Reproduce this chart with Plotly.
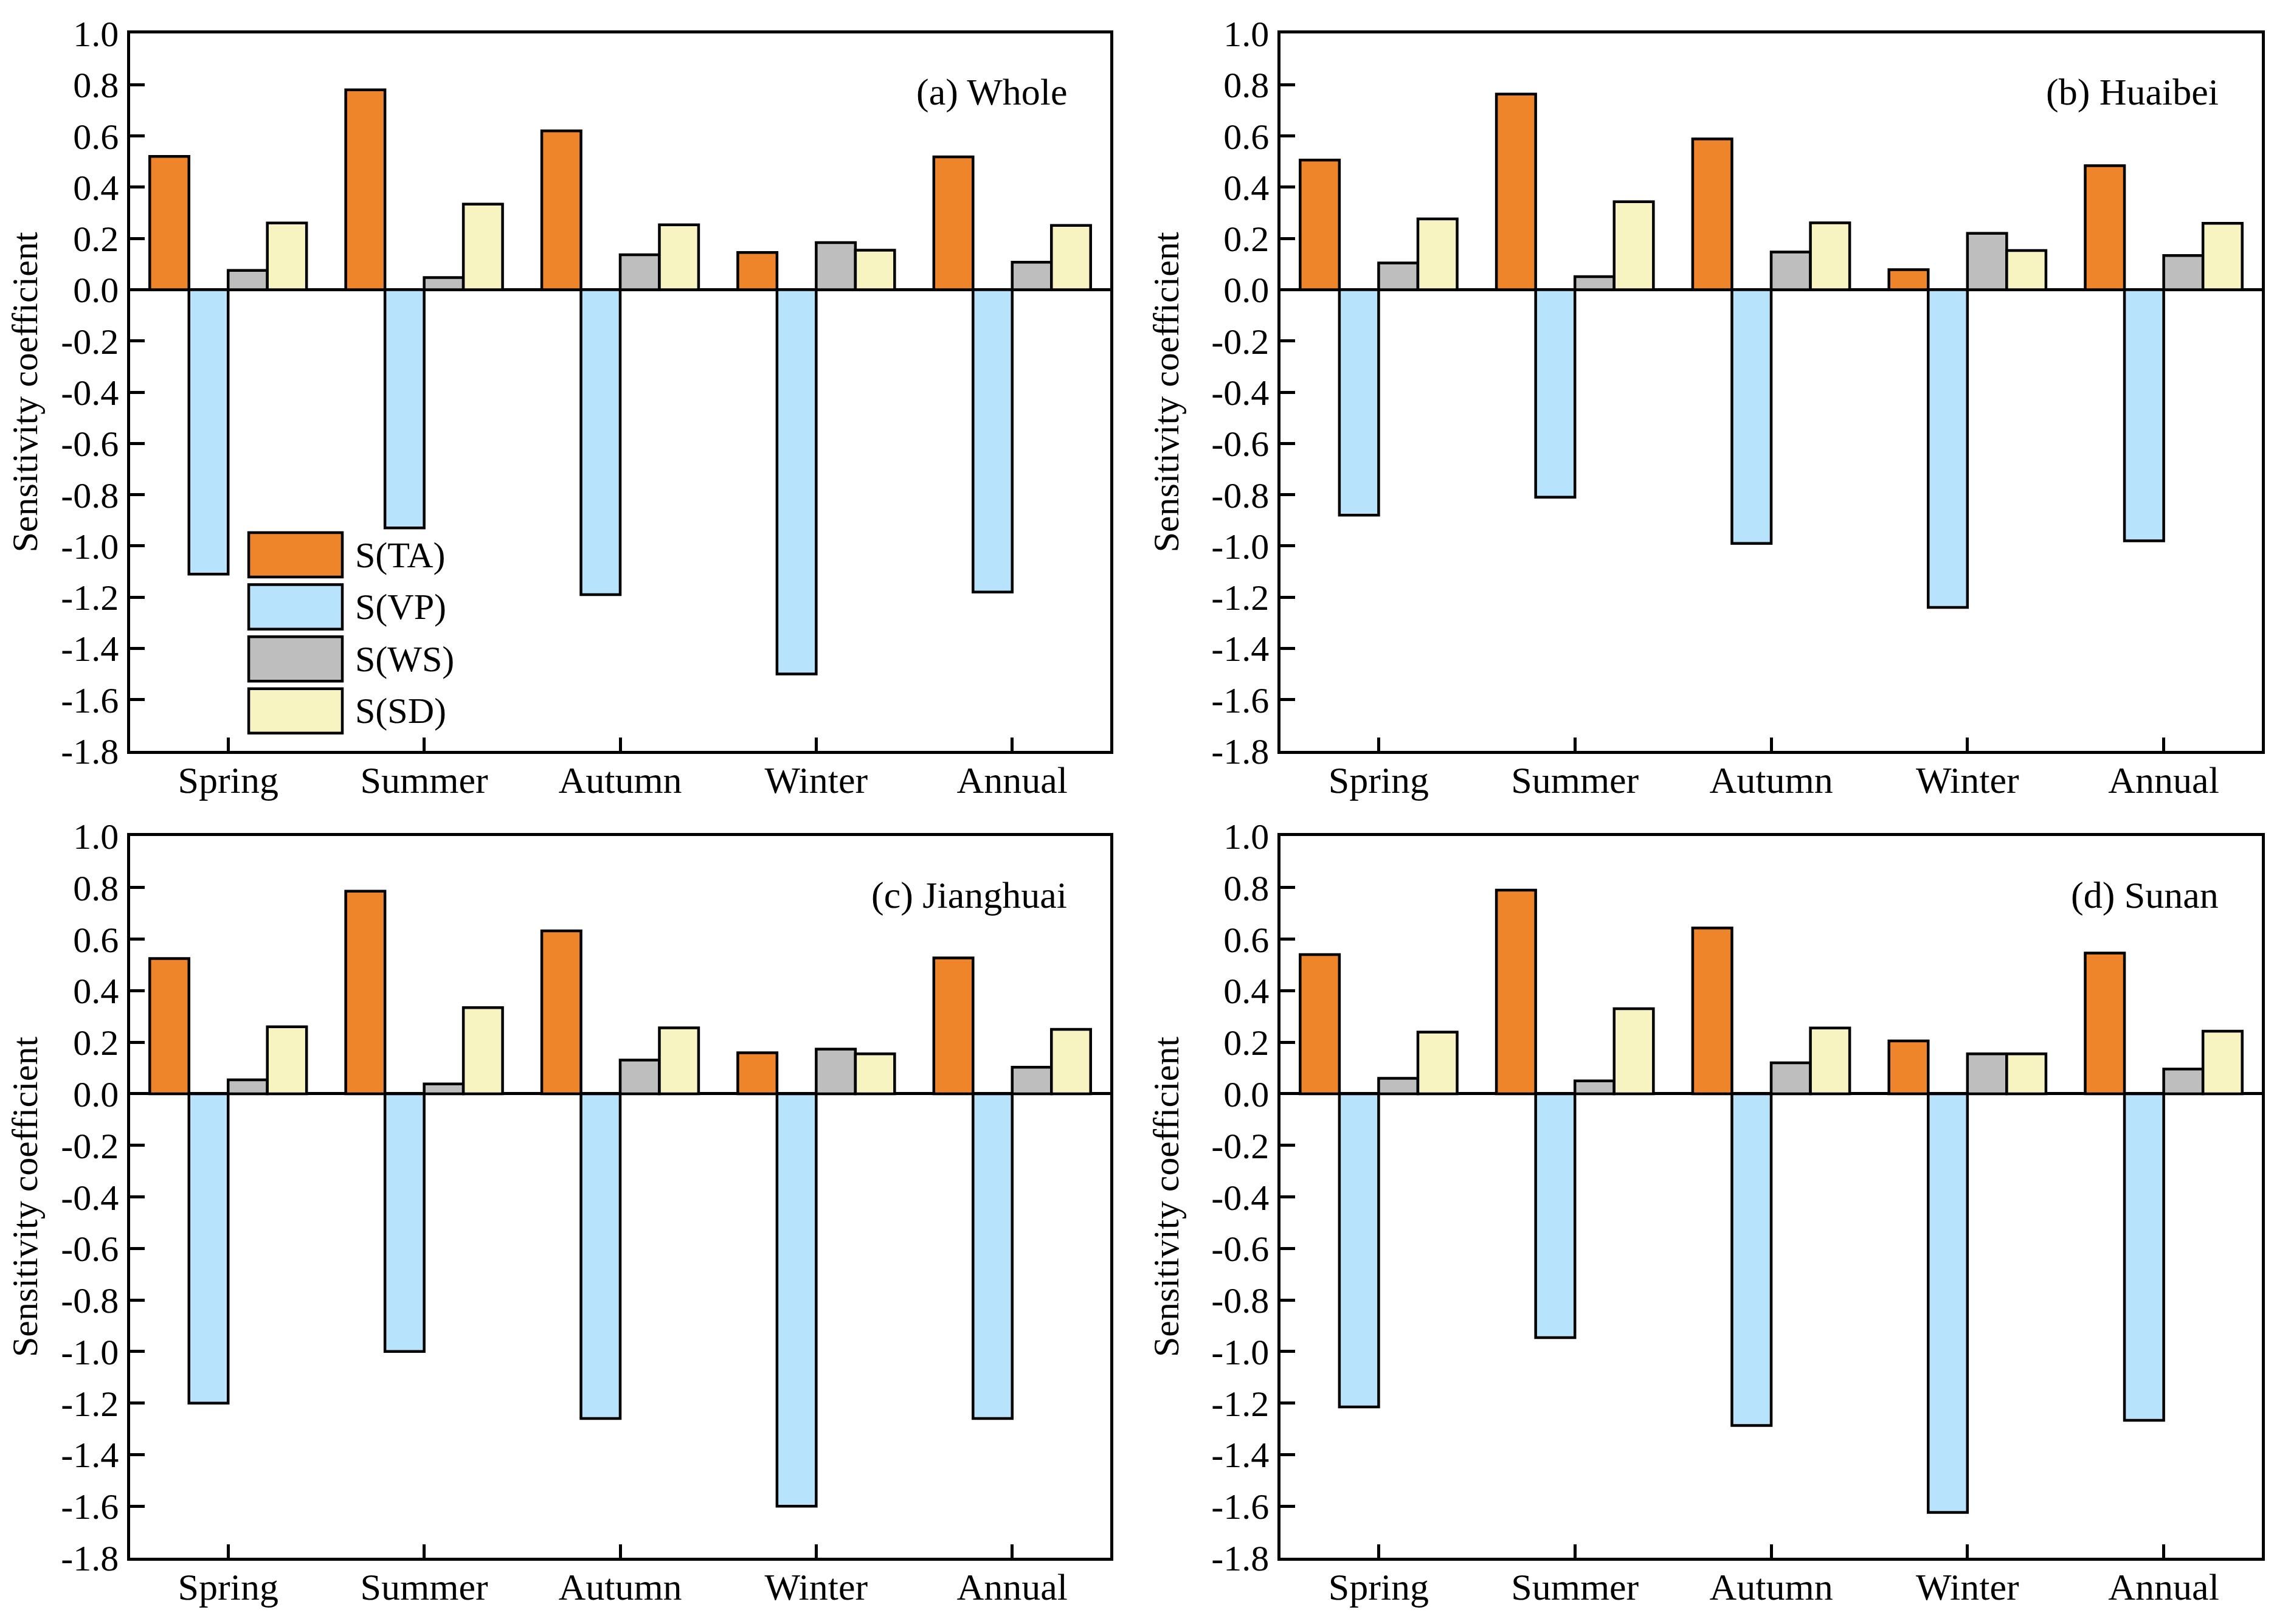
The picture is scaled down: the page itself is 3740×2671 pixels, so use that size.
import plotly.graph_objects as go

categories = ["Spring", "Summer", "Autumn", "Winter", "Annual"]
series_names = ["S(TA)", "S(VP)", "S(WS)", "S(SD)"]
series_colors = ["#EF852B", "#B7E3FD", "#BEBEBE", "#F7F4C1"]

panel_titles = ["(a) Whole", "(b) Huaibei", "(c) Jianghuai", "(d) Sunan"]

whole_TA = [0.52, 0.78, 0.62, 0.145, 0.518]
whole_VP = [-1.11, -0.93, -1.19, -1.50, -1.18]
whole_WS = [0.075, 0.047, 0.136, 0.184, 0.107]
whole_SD = [0.26, 0.334, 0.253, 0.154, 0.251]

huaibei_TA = [0.506, 0.763, 0.588, 0.078, 0.484]
huaibei_VP = [-0.88, -0.81, -0.99, -1.24, -0.98]
huaibei_WS = [0.104, 0.051, 0.147, 0.22, 0.133]
huaibei_SD = [0.276, 0.343, 0.261, 0.153, 0.259]

jianghuai_TA = [0.525, 0.786, 0.632, 0.159, 0.527]
jianghuai_VP = [-1.20, -1.00, -1.26, -1.60, -1.26]
jianghuai_WS = [0.054, 0.038, 0.131, 0.173, 0.103]
jianghuai_SD = [0.26, 0.334, 0.256, 0.155, 0.25]

sunan_TA = [0.54, 0.79, 0.643, 0.205, 0.546]
sunan_VP = [-1.215, -0.946, -1.287, -1.624, -1.267]
sunan_WS = [0.06, 0.05, 0.12, 0.155, 0.096]
sunan_SD = [0.239, 0.33, 0.255, 0.155, 0.243]

panels = [
    [whole_TA, whole_VP, whole_WS, whole_SD],
    [huaibei_TA, huaibei_VP, huaibei_WS, huaibei_SD],
    [jianghuai_TA, jianghuai_VP, jianghuai_WS, jianghuai_SD],
    [sunan_TA, sunan_VP, sunan_WS, sunan_SD],
]

ytick_vals = [1.0, 0.8, 0.6, 0.4, 0.2, 0.0, -0.2, -0.4, -0.6, -0.8,
              -1.0, -1.2, -1.4, -1.6, -1.8]
ytick_text = ["1.0", "0.8", "0.6", "0.4", "0.2", "0.0", "-0.2", "-0.4", "-0.6",
              "-0.8", "-1.0", "-1.2", "-1.4", "-1.6", "-1.8"]
y_title = "Sensitivity coefficient"

FONT = "Liberation Serif"
LW = 4.5

# figure is drawn inside the page's 8px body margin
x_domains = [[0.05532, 0.48818], [0.56338, 0.99678]]
y_domains = [[0.53785, 0.98230], [0.03804, 0.48512]]

fig = go.Figure()
layout = dict(
    width=3724, height=2655,
    margin=dict(l=0, r=0, t=0, b=0, autoexpand=False),
    paper_bgcolor="white", plot_bgcolor="white",
    barmode="group", bargap=0.2, bargroupgap=0.0,
    showlegend=False,
    font=dict(family=FONT, size=60, color="black"),
)

annotations = []
shapes = []
for p, data in enumerate(panels):
    row, col = divmod(p, 2)
    idx = p + 1
    xa = "x" if idx == 1 else f"x{idx}"
    ya = "y" if idx == 1 else f"y{idx}"
    for s, vals in enumerate(data):
        fig.add_trace(go.Bar(
            x=categories, y=vals, name=series_names[s],
            marker=dict(color=series_colors[s], line=dict(color="black", width=LW)),
            xaxis=xa, yaxis=ya, showlegend=False,
        ))
    xkey = "xaxis" if idx == 1 else f"xaxis{idx}"
    ykey = "yaxis" if idx == 1 else f"yaxis{idx}"
    layout[xkey] = dict(
        domain=x_domains[col], anchor=ya, type="category",
        range=[-0.5, 4.5], automargin=False,
        showline=True, linecolor="black", linewidth=LW, mirror=True,
        ticks="inside", ticklen=22, tickwidth=LW, tickcolor="black",
        tickfont=dict(family=FONT, size=62), ticklabelstandoff=-10,
        showgrid=False, zeroline=False,
    )
    layout[ykey] = dict(
        domain=y_domains[row], anchor=xa,
        range=[-1.8, 1.0], automargin=False,
        tickvals=ytick_vals, ticktext=ytick_text,
        showline=True, linecolor="black", linewidth=LW, mirror=True,
        ticks="inside", ticklen=24, tickwidth=LW, tickcolor="black",
        tickfont=dict(family=FONT, size=60), ticklabelstandoff=2,
        showgrid=False,
        zeroline=True, zerolinecolor="black", zerolinewidth=LW,
        title=dict(text=y_title, font=dict(family=FONT, size=60), standoff=36),
    )
    axref = "x" if idx == 1 else f"x{idx}"
    ayref = "y" if idx == 1 else f"y{idx}"
    annotations.append(dict(
        text=panel_titles[p], xref=f"{axref} domain", yref=f"{ayref} domain",
        x=0.957, y=0.918, xanchor="right", yanchor="middle", showarrow=False,
        font=dict(family=FONT, size=62, color="black"),
    ))

# Legend (panel a), drawn as boxes + labels
lx0, lx1, ltxt = 0.121, 0.2165, 0.2283
ltop, lstep, lh = 0.3042, 0.0725, 0.0619
for s, name in enumerate(series_names):
    top = ltop - s * lstep
    shapes.append(dict(
        type="rect", xref="x domain", yref="y domain",
        x0=lx0, x1=lx1, y0=top - lh, y1=top,
        fillcolor=series_colors[s], line=dict(color="black", width=LW),
    ))
    annotations.append(dict(
        text=name, xref="x domain", yref="y domain",
        x=ltxt, y=top - lh / 2, xanchor="left", yanchor="middle", showarrow=False,
        font=dict(family=FONT, size=60, color="black"),
    ))

layout["annotations"] = annotations
layout["shapes"] = shapes
fig.update_layout(**layout)
fig.write_html("out.html")
